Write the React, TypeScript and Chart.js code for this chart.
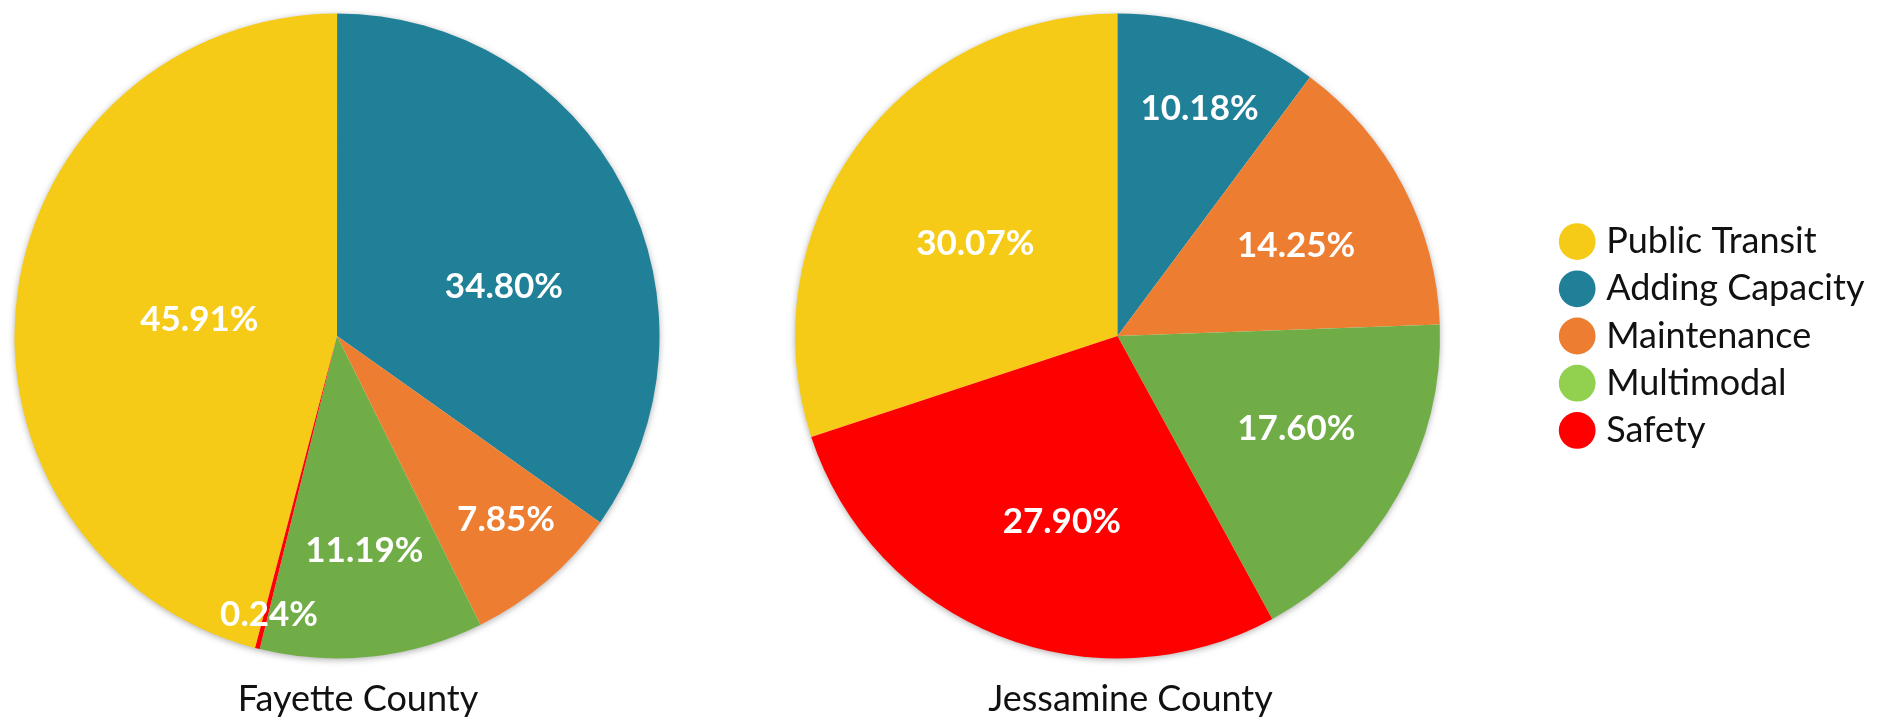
import { useEffect, useRef } from 'react';
import { Chart, registerables } from 'chart.js';

Chart.register(...registerables);

const categories = ['Public Transit', 'Adding Capacity', 'Maintenance', 'Multimodal', 'Safety'];
const fayetteValues = [45.91, 34.8, 7.85, 11.19, 0.24];
const jessamineValues = [30.07, 10.18, 14.25, 17.6, 27.9];
const countyNames = ['Fayette County', 'Jessamine County'];

const sliceColors = ['#F6CB17', '#1F8098', '#ED7D31', '#70AD47', '#FF0000'];
const legendColors = ['#F6CB17', '#1F8098', '#ED7D31', '#92D050', '#FF0000'];

// label placement (fraction of radius, angular tweak in degrees)
const fayetteLabelRadius = [0.43, 0.54, 0.775, 0.67, 0.89];
const fayetteLabelShift = [-0.5, 10.8, -2, -1, -0.6];
const jessamineLabelRadius = [0.525, 0.75, 0.62, 0.625, 0.6];
const jessamineLabelShift = [-3, 1.5, 1, -2.2, -4.8];

const FONT = 'Lato, "Open Sans", sans-serif';
const LEGEND_FONT_SIZE = 36;
const LEGEND_BOX_W = 22;
const LEGEND_BOX_H = 26;
const LEGEND_PAD = 11.2;

const shadowPlugin = {
  id: 'pieShadow',
  beforeDatasetsDraw(chart: any) {
    const arc = chart.getDatasetMeta(0).data[0];
    if (!arc) return;
    const { x, y, outerRadius } = arc.getProps(['x', 'y', 'outerRadius'], true);
    const ctx = chart.ctx;
    ctx.save();
    ctx.shadowColor = 'rgba(0,0,0,0.35)';
    ctx.shadowBlur = 7;
    ctx.shadowOffsetY = 1.5;
    ctx.beginPath();
    ctx.arc(x, y, outerRadius - 0.5, 0, Math.PI * 2);
    ctx.fillStyle = '#ffffff';
    ctx.fill();
    ctx.restore();
  },
};

const sliceLabelPlugin = {
  id: 'sliceLabels',
  afterDatasetsDraw(chart: any, _args: any, opts: any) {
    const meta = chart.getDatasetMeta(0);
    const values = chart.data.datasets[0].data as number[];
    const ctx = chart.ctx;
    ctx.save();
    ctx.font = `bold ${opts.size}px ${FONT}`;
    ctx.fillStyle = '#ffffff';
    ctx.textAlign = 'center';
    ctx.textBaseline = 'middle';
    meta.data.forEach((arc: any, i: number) => {
      const { x, y, startAngle, endAngle, outerRadius } = arc.getProps(
        ['x', 'y', 'startAngle', 'endAngle', 'outerRadius'],
        true
      );
      const mid = (startAngle + endAngle) / 2 + ((opts.shift[i] || 0) * Math.PI) / 180;
      const r = outerRadius * opts.radius[i];
      ctx.fillText(values[i].toFixed(2) + '%', x + Math.cos(mid) * r, y + Math.sin(mid) * r);
    });
    ctx.restore();
  },
};

// nudges the bottom title horizontally (the caption sits slightly right of the pie centre)
const titleNudgePlugin = {
  id: 'titleNudge',
  afterLayout(chart: any, _args: any, opts: any) {
    const t = chart.titleBlock;
    if (t && opts && opts.dx) {
      t.left += opts.dx;
      t.right += opts.dx;
    }
  },
};

function makeConfig(
  values: number[],
  title: string,
  labelRadius: number[],
  labelShift: number[],
  withLegend: boolean,
  padding: any,
  titleDx: number
) {
  return {
    type: 'pie' as const,
    data: {
      labels: categories,
      datasets: [
        {
          data: values,
          backgroundColor: sliceColors,
          borderWidth: 0,
        },
      ],
    },
    options: {
      responsive: false,
      animation: false,
      events: [],
      rotation: -values[0] * 3.6,
      layout: { padding },
      plugins: {
        tooltip: { enabled: false },
        title: {
          display: true,
          text: title,
          position: 'bottom',
          fullSize: false,
          color: '#111111',
          font: { family: FONT, size: 36, weight: 'normal', lineHeight: 1.2 },
          padding: { top: 18.9, bottom: 1.4 },
        },
        legend: withLegend
          ? {
              display: true,
              position: 'right',
              fullSize: false,
              align: 'center',
              labels: {
                usePointStyle: true,
                pointStyle: 'circle',
                boxWidth: LEGEND_BOX_W,
                boxHeight: LEGEND_BOX_H,
                padding: LEGEND_PAD,
                color: '#111111',
                font: { family: FONT, size: LEGEND_FONT_SIZE },
                generateLabels: () =>
                  categories.map((c, i) => ({
                    text: c,
                    fillStyle: legendColors[i],
                    strokeStyle: legendColors[i],
                    lineWidth: 0,
                    pointStyle: 'circle',
                    hidden: false,
                    index: i,
                    fontColor: '#111111',
                  })),
              },
            }
          : { display: false },
        sliceLabels: { radius: labelRadius, shift: labelShift, size: 35 },
        titleNudge: { dx: titleDx },
      },
    },
    plugins: [shadowPlugin, sliceLabelPlugin, titleNudgePlugin],
  };
}

const CANVAS_H = 722;
const RIGHT_LEFT = 680;
const RIGHT_WIDTH = 1885 - RIGHT_LEFT;
const LEGEND_LEFT = 1555; // page x where legend box starts

export default function App() {
  const leftRef = useRef<HTMLCanvasElement>(null);
  const rightRef = useRef<HTMLCanvasElement>(null);

  useEffect(() => {
    // measure the legend width Chart.js will compute, so the pie stays centred
    const mctx = document.createElement('canvas').getContext('2d') as CanvasRenderingContext2D;
    mctx.font = `${LEGEND_FONT_SIZE}px ${FONT}`;
    const maxText = Math.max(...categories.map((c) => mctx.measureText(c).width));
    const legendWidth = LEGEND_PAD + LEGEND_BOX_W + LEGEND_FONT_SIZE / 2 + maxText + 10;
    const padRight = Math.max(0, RIGHT_WIDTH - (LEGEND_LEFT - RIGHT_LEFT) - legendWidth);

    const c1 = new Chart(
      leftRef.current as HTMLCanvasElement,
      makeConfig(
        fayetteValues,
        countyNames[0],
        fayetteLabelRadius,
        fayetteLabelShift,
        false,
        { left: 14.5, right: 14.5, top: 13.5, bottom: 0 },
        21
      ) as any
    );
    const c2 = new Chart(
      rightRef.current as HTMLCanvasElement,
      makeConfig(
        jessamineValues,
        countyNames[1],
        jessamineLabelRadius,
        jessamineLabelShift,
        true,
        { left: 0, right: padRight, top: 13.5, bottom: 0 },
        13
      ) as any
    );
    return () => {
      c1.destroy();
      c2.destroy();
    };
  }, []);

  return (
    <div
      style={{
        position: 'absolute',
        left: 0,
        top: 0,
        width: 1885,
        height: 718,
        background: '#ffffff',
        overflow: 'hidden',
      }}
    >
      <canvas
        ref={leftRef}
        width={674}
        height={CANVAS_H}
        style={{ position: 'absolute', left: 0, top: 0, width: 674, height: CANVAS_H }}
      />
      <canvas
        ref={rightRef}
        width={RIGHT_WIDTH}
        height={CANVAS_H}
        style={{ position: 'absolute', left: RIGHT_LEFT, top: 0, width: RIGHT_WIDTH, height: CANVAS_H }}
      />
    </div>
  );
}
